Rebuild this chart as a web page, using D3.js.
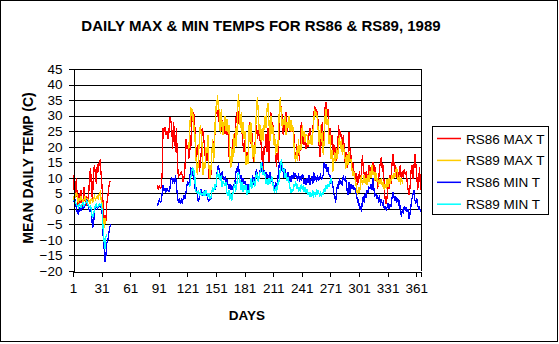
<!DOCTYPE html>
<html><head><meta charset="utf-8">
<script src="https://cdn.jsdelivr.net/npm/d3@7"></script>
<style>html,body{margin:0;padding:0;background:#fff}svg{display:block}text{font-family:"Liberation Sans",Arial,sans-serif}</style>
</head><body>
<script>
// ---- data ----
const title = "DAILY MAX & MIN TEMPS FOR RS86 & RS89, 1989";
const yTitle = "MEAN DAILY TEMP (C)";
const xTitle = "DAYS";
const seriesNames = ["RS86 MAX T", "RS89 MAX T", "RS86 MIN T", "RS89 MIN T"];
const seriesColors = ["#FF0000", "#FFCC00", "#0000FF", "#00FFFF"];
const xTickDays = [1, 31, 61, 91, 121, 151, 181, 211, 241, 271, 301, 331, 361];
const yTicks = [-20, -15, -10, -5, 0, 5, 10, 15, 20, 25, 30, 35, 40, 45];

// RS86 MAX T
const rs86MaxAStart = 1;
const rs86MaxA = [6, 12.5, 4, 10, 3, 1, 5, 2, 6, 2, 0.5, 7, 3, 1, 4, 2, 5, 11, 13, 5,
  3, 12, 14, 11, 8, 14.5, 12, 15, 15.5, 11, 7, 2, -5, -2, -4, 2, 4, 7, 8.5, 9];
const rs86MaxBStart = 89;
const rs86MaxB = [7.6, 6, 7.6, 6.5, 7, 11, 25.9, 24.8, 26.4, 23.7,
  25, 22.6, 24, 29.6, 28.5, 26.9, 19.4, 28, 23.7, 18.4,
  25.9, 15.1, 10.3, 10.8, 11.1, 11.9, 11, 8.7, 10.3, 13.5,
  22.6, 19.4, 20.5, 16.2, 20.5, 18.9, 30.2, 28, 31.2, 28,
  22.6, 15.1, 20.5, 19.4, 11.9, 14, 18.4, 25.9, 24.8, 21.5,
  17, 20, 15.5, 18, 9.5, 12, 10, 17, 22.6, 19,
  21, 30, 33, 29.6, 32, 27, 31, 25, 28.5, 26,
  28, 24, 26.5, 23.7, 27, 17.3, 15, 14, 17, 22.6,
  18.4, 21, 27, 31, 26, 29, 32, 28, 30, 23.7,
  20, 18.4, 22, 17.3, 15, 16.5, 24, 28, 21, 25,
  20.5, 15, 18, 24, 27, 22.6, 25, 27, 20.5, 24,
  15, 11, 20,
  20, 24, 18.4, 26, 15, 22, 31, 25, 28, 20.5,
  24, 17, 13.5, 20.5, 15, 32, 35, 31, 30, 23.7,
  27, 25, 31, 24.8, 28, 26, 28, 24.8, 27, 25,
  24.8, 19, 15, 21, 17, 20.5, 15.5, 22, 28, 21,
  25, 20.5, 22.6, 19.4, 21, 20, 24, 26, 21.5, 23,
  25, 30, 33, 31, 32, 30, 27, 17,
  17, 24, 28, 21, 25, 33, 34.5, 30, 32, 22,
  26, 20.5, 23.7, 17, 21, 16.2, 20, 15.5, 18, 27,
  23, 25, 22.6, 18.4, 23.7, 19.5, 15, 18.4, 13, 17,
  24.8, 19, 17.3, 13, 15, 10.8, 12, 8, 11.5, 7.6,
  10, 12, 8.7, 11, 17.3, 13, 10.8, 9, 12, 7.6,
  11, 14, 10.8, 13.5, 11, 15, 12, 14,
  9, 11, 6.5, 9, 13, 15, 16.8, 12, 14, 6,
  3, 1.5, 4, 9, 6.5, 10.8, 8, 14, 17.7, 15,
  12, 14, 10, 12.5, 9.7, 13, 14, 8.7, 12, 10,
  12.9, 11, 12, 8.7, 6, 4.4, 7, 12, 14, 9.7,
  13, 17.7, 15, 11, 6, 9, 13.5, 6];

// RS89 MAX T
const rs89MaxAStart = 1;
const rs89MaxA = [3, 4.5, 3.5, 5.5, 4, 2, 3.5, 2.5, 4, 3, 1.5, 3, 4, 2.5, 3.5, 2, 3, 1.5, 2.5, 3.5,
  2, 3, 4, 3, 3.5, 4, 3, 5, 5.5, 3, 2, -4, -6, -3, -5];
const rs89MaxBStart = 122;
const rs89MaxB = [19.4, 26, 32.6, 30, 32, 25, 27, 18, 14, 10.8,
  16, 22, 27, 24, 20, 10.8, 15, 13, 20, 18,
  23.7, 14, 10,
  12, 17, 22.6, 15, 20, 33, 31.2, 36.6, 33, 31.5,
  24, 32, 26, 23.7, 28, 30, 25, 29, 24.8, 27,
  17, 13, 20, 15, 24, 18, 26, 20, 30, 37,
  32, 26, 31, 24, 28, 22.6, 25, 14, 17, 14.5,
  27, 21.5, 28, 22, 16, 20.5, 15, 25, 33, 36,
  30, 24, 27, 21.5, 26, 22, 27,
  30, 26, 32, 34, 28, 22, 30, 24, 27, 20.5,
  23.7, 17.3, 21, 18, 24, 33, 36, 30, 26, 29,
  27, 30, 23.7, 28, 26, 30, 25, 28.5, 24.8, 27,
  22, 17, 15, 19, 15.5, 22.6, 17.3, 21, 19, 27,
  23, 25, 21.5, 24, 23.7, 20.5, 22, 21, 23.7, 20.5,
  24, 28, 32, 30, 31, 28, 24, 20.5,
  27, 21.5, 25, 17.3, 22, 30, 32, 27, 29, 21,
  23.7, 16, 19, 12, 15, 18.4, 15, 19.4, 16, 21,
  23.7, 19.4, 22.6, 17.3, 21, 18, 16, 13, 17.3, 14,
  18.4, 15, 16, 13, 10.5, 12, 9.7, 8.7, 6, 4.4,
  7, 5, 8, 10.8, 7.6, 9, 11, 8, 10, 7.6,
  11, 8.7, 12, 10, 14, 11, 12, 9, 11.9, 8.7,
  10, 7.5, 9.5, 8, 10, 7, 9, 6, 8, 6.5,
  9.5, 7, 10, 8, 9, 11, 9.7, 11.5, 10, 12,
  13.5, 10, 8.7, 11, 7.6, 10, 8];

// RS86 MIN T
const rs86MinAStart = 1;
const rs86MinA = [2.5, 2, 3, 0, -1, -1.5, -0.5, 0.5, -0.5, 1, 0, 0.5, 1, 2, 3, 1.5, 0, -1, 0.5, -2,
  -6, -5, -1, 0.5, 1, 0, 0.5, 1, 0.5, 1, -1, -8, -12, -17, -15, -11, -10, -8, -6, -5];
const rs86MinBStart = 89;
const rs86MinB = [0.8, 2, 3, 2, 2.5, 5, 7.6, 6, 6.5, 5.5,
  6.5, 6, 5.5, 6, 9, 10.3, 8.1, 10, 8, 11,
  7.6, 4.3, 2, 3, 1.7, 3, 2, 3, 4.5, 3.3,
  5.4, 7.6, 8.7, 8, 10, 13.5, 10.3, 12, 11, 8,
  5.4, 7, 4.3, 2.2, 3.5, 5, 6.5, 4.3, 5.5, 4.5,
  6, 5, 4.5, 3, 2.5, 4,
  3, 5, 7, 5.5, 7.6, 6, 9, 13, 14, 12,
  11, 9, 12, 10, 9.5, 10, 8, 9.5, 8, 6.5,
  8, 6, 7.5, 6, 8, 7, 11, 13, 12, 14.6,
  11, 10, 11, 8.5, 10, 8, 9, 7, 8, 6,
  7.5, 7, 10, 8, 10.8, 7.6, 9, 11, 12.9, 10,
  8.7, 11, 13, 12, 15, 11, 12,
  11, 11.9, 10, 11, 9, 11.9, 8.7, 10, 9, 7,
  6.5, 8.7, 7, 8, 12, 15, 13, 14, 11.9, 13,
  10, 12.9, 11, 10, 11.9, 9, 10.5, 8.7, 11, 9.5,
  11.9, 10, 11, 10.5, 9, 11.5, 8.7, 10, 9, 11,
  10.8, 8, 9.5, 7.6, 10, 8.5, 10.8, 7.6, 9, 10.5,
  8, 11.9, 9, 10.5, 8.7, 11, 9, 10,
  10.8, 9.5, 10, 11, 15, 13, 14.5, 12, 13.5, 11,
  10.8, 8, 9, 7.6, 5, 4, 2, 6, 8, 6.5,
  10, 8, 9, 7.5, 10.8, 9, 10, 8.7, 6, 4.4,
  8.7, 5, 8, 6.5, 7.6, 6, 7, 5.4, 4.4, 2,
  3, 0, 1, -1, 2.5, 4, 2, 5, 3.5, 6,
  5, 7, 6.5, 8, 6, 10, 7, 4,
  5, 3.3, 4.5, 2, 4.4, 1.1, 3, 1.5, 2.2, 0,
  1, -0.5, 0.5, 2, 0, 1.5, 0.5, 3.3, 5.4, 4,
  2.5, 4, 2, 3.5, 1.5, 2.2, -1, -2.6, 0, -1.5,
  1, -0.5, 0.5, -1, 0, -3.2, -1.5, 1, 3.3, 4.5,
  6, 3, 1.5, 3.5, 1, 0, 0.5, -1];

// RS89 MIN T
const rs89MinAStart = 1;
const rs89MinA = [2.5, 3, 2, 1.5, 1, 0.5, 1.5, 1, 0.5, 1.5, 2, 1, 1.5, 2, 2.5, 1.5, 1, 0.5, 1, -1,
  -3, -2, 0, 1, 1.5, 0.5, 1, 1.5, 1, 1.5, 0, -6, -10, -13, -9, -8];
const rs89MinBStart = 123;
const rs89MinB = [7, 10, 12, 13.5, 11.4, 12, 6, 5.4, 5, 6,
  4.5, 5.4, 4.3, 5, 4.5, 5.5, 4.3, 6, 5, 4,
  5, 3.5,
  3.3, 5, 7, 5.4, 8, 6.5, 8.7, 12.4, 10, 11.5,
  9, 10.8, 7, 9, 8, 7.5, 8.7, 5, 4.4, 6,
  3, 5, 2.7, 4.5, 6, 8.7, 5.4, 7, 10, 11.9,
  10.5, 8, 6, 8.7, 5.4, 7.5, 6, 7.6, 4.4, 6,
  5, 7, 10, 6.5, 8, 9.5, 7, 9, 11.9, 10,
  8.7, 11, 12, 15, 13, 10.8, 12,
  10.8, 8, 9.5, 7.6, 10, 8, 9, 10.5, 8.5, 6,
  5.4, 7, 5, 8.7, 7.6, 10, 13, 16, 14, 12,
  12.5, 10, 11.5, 9, 10, 8.7, 7, 5, 6.5, 5.4,
  8, 7, 9, 6.5, 8, 5.4, 7, 5.5, 8, 6,
  7.6, 5.4, 7, 5, 6.5, 4.5, 5.5, 3.8, 5, 4,
  6, 4.3, 5, 4, 6.5, 4.5, 5.5, 4.3, 5, 3.8,
  5.5, 4.5, 6.5, 5.5, 7.5, 6.5, 8, 7, 8.6, 10, 8];

// ---- chart ----
const W = 559, H = 344;
const M = {left: 73, right: 421, top: 69, bottom: 271};

const svg = d3.select("body").append("svg").attr("width", W).attr("height", H);
svg.append("rect").attr("x", 0).attr("y", 0).attr("width", W).attr("height", H).attr("fill", "#fff");
svg.append("rect").attr("x", 0.5).attr("y", 0.5).attr("width", 557).attr("height", 341)
  .attr("fill", "none").attr("stroke", "#000").attr("stroke-width", 1);

const x = d3.scaleLinear().domain([0.5, 365.5]).range([M.left, M.right]);
const y = d3.scaleLinear().domain([-20, 45]).range([M.bottom, M.top]);

// gridlines
svg.append("g").selectAll("line").data(yTicks.filter(v => v > -20)).join("line")
  .attr("x1", M.left).attr("x2", M.right)
  .attr("y1", d => Math.round(y(d)) + 0.5).attr("y2", d => Math.round(y(d)) + 0.5)
  .attr("stroke", "#000").attr("stroke-width", 1).attr("shape-rendering", "crispEdges");
// right border of plot
svg.append("line").attr("x1", M.right + 0.5).attr("x2", M.right + 0.5)
  .attr("y1", y(45)).attr("y2", y(-20)).attr("stroke", "#000").attr("shape-rendering", "crispEdges");

function toPoints(start, vals) { return vals.map((v, i) => ({d: start + i, v})); }
const series = [
  [toPoints(rs86MaxAStart, rs86MaxA), toPoints(rs86MaxBStart, rs86MaxB)],
  [toPoints(rs89MaxAStart, rs89MaxA), toPoints(rs89MaxBStart, rs89MaxB)],
  [toPoints(rs86MinAStart, rs86MinA), toPoints(rs86MinBStart, rs86MinB)],
  [toPoints(rs89MinAStart, rs89MinA), toPoints(rs89MinBStart, rs89MinB)]
];
const line = d3.line().x(p => x(p.d)).y(p => y(p.v));
const gData = svg.append("g");
series.forEach((segs, si) => {
  segs.forEach(seg => {
    gData.append("path").attr("d", line(seg)).attr("fill", "none")
      .attr("stroke", seriesColors[si]).attr("stroke-width", 1.3)
      .attr("stroke-linejoin", "miter").attr("shape-rendering", "crispEdges");
  });
});

// y axis
const yAxis = d3.axisLeft(y).tickValues(yTicks).tickSize(5).tickPadding(6).tickFormat(d3.format("d"));
const gy = svg.append("g").attr("transform", `translate(${M.left + 0.5},0)`).call(yAxis);
gy.selectAll("text").attr("font-size", 13.5).attr("fill", "#000").attr("font-family", '"Liberation Sans",Arial,sans-serif');
gy.selectAll("line,path").attr("stroke", "#000").attr("shape-rendering", "crispEdges");

// x axis
const xAxis = d3.axisBottom(x).tickValues(xTickDays.map(d => d - 0.5).concat([365.5]))
  .tickSize(5).tickPadding(7).tickSizeOuter(0)
  .tickFormat(v => (v === 365.5 ? "" : String(v + 0.5)));
const gx = svg.append("g").attr("transform", `translate(0,${M.bottom + 0.5})`).call(xAxis);
gx.selectAll("text").attr("font-size", 13.5).attr("fill", "#000").attr("font-family", '"Liberation Sans",Arial,sans-serif');
gx.selectAll("line,path").attr("stroke", "#000").attr("shape-rendering", "crispEdges");

// titles
svg.append("text").attr("x", 261).attr("y", 31).attr("text-anchor", "middle")
  .attr("font-size", 15).attr("font-weight", "bold").text(title);
svg.append("text").attr("x", 247).attr("y", 320).attr("text-anchor", "middle")
  .attr("font-size", 13.5).attr("font-weight", "bold").text(xTitle);
svg.append("text").attr("transform", "translate(33,168) rotate(-90)").attr("text-anchor", "middle")
  .attr("font-size", 14).attr("font-weight", "bold").text(yTitle);

// legend
const lg = svg.append("g");
lg.append("rect").attr("x", 432.5).attr("y", 126.5).attr("width", 116).attr("height", 88)
  .attr("fill", "#fff").attr("stroke", "#000");
seriesNames.forEach((n, i) => {
  const cy = 138.5 + i * 21.9;
  lg.append("line").attr("x1", 437).attr("x2", 461).attr("y1", cy).attr("y2", cy)
    .attr("stroke", seriesColors[i]).attr("stroke-width", 1.5);
  lg.append("text").attr("x", 466).attr("y", cy + 5).attr("font-size", 13.5).text(n);
});
</script>
</body></html>
